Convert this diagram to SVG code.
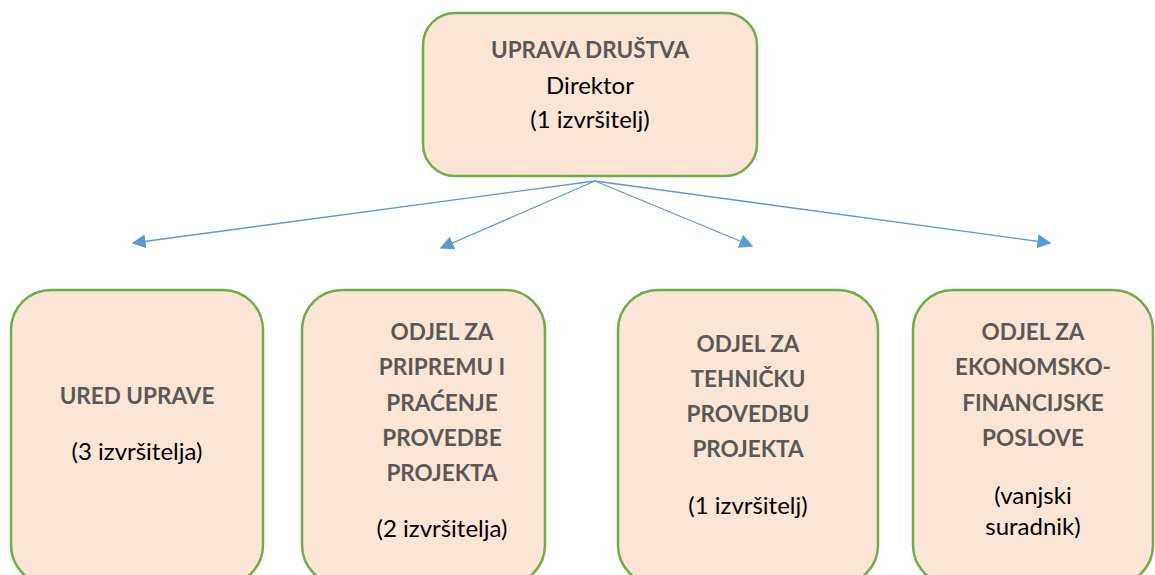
<svg xmlns="http://www.w3.org/2000/svg" width="1155" height="575" viewBox="0 0 1155 575">
<defs>
<style>
.box{fill:#FBE5D6;stroke:#70AD47;stroke-width:2.5}
.t{font-family:Lato,"Liberation Sans",sans-serif;text-anchor:middle}
.b{font-weight:bold;fill:#595959;font-size:22.5px}
.r{fill:#000;font-size:24px}
.c{stroke:#5B9BD5;stroke-width:1.3;fill:none}
</style>
<marker id="ah" viewBox="0 0 10 10" refX="9" refY="5" markerWidth="14" markerHeight="14" markerUnits="userSpaceOnUse" orient="auto">
<path d="M0,0 L10,5 L0,10 Z" fill="#5B9BD5"/>
</marker>
</defs>
<rect width="1155" height="575" fill="#fff"/>
<g id="connectors">
<line class="c" x1="595" y1="181" x2="133" y2="243" marker-end="url(#ah)"/>
<line class="c" x1="595" y1="181" x2="441" y2="248" marker-end="url(#ah)"/>
<line class="c" x1="595" y1="181" x2="752" y2="246" marker-end="url(#ah)"/>
<line class="c" x1="595" y1="181" x2="1050" y2="243" marker-end="url(#ah)"/>
</g>
<g id="uprava">
<rect class="box" x="423" y="13" width="334" height="163" rx="32"/>
<text class="t b" x="590" y="58">UPRAVA DRUŠTVA</text>
<text class="t r" x="590" y="94">Direktor</text>
<text class="t r" x="590" y="128">(1 izvršitelj)</text>
</g>
<g id="ured">
<rect class="box" x="11" y="290" width="252" height="295" rx="40"/>
<text class="t b" x="137" y="404">URED UPRAVE</text>
<text class="t r" x="137" y="460">(3 izvršitelja)</text>
</g>
<g id="priprema">
<rect class="box" x="302" y="290" width="243" height="295" rx="40"/>
<text class="t b" x="442" y="340">ODJEL ZA</text>
<text class="t b" x="442" y="375">PRIPREMU I</text>
<text class="t b" x="442" y="411">PRAĆENJE</text>
<text class="t b" x="442" y="446">PROVEDBE</text>
<text class="t b" x="442" y="481">PROJEKTA</text>
<text class="t r" x="442" y="537">(2 izvršitelja)</text>
</g>
<g id="tehnicka">
<rect class="box" x="618" y="290" width="260" height="295" rx="40"/>
<text class="t b" x="748" y="352">ODJEL ZA</text>
<text class="t b" x="748" y="387">TEHNIČKU</text>
<text class="t b" x="748" y="422">PROVEDBU</text>
<text class="t b" x="748" y="457">PROJEKTA</text>
<text class="t r" x="748" y="514">(1 izvršitelj)</text>
</g>
<g id="ekonomski">
<rect class="box" x="913" y="290" width="240" height="295" rx="40"/>
<text class="t b" x="1033" y="340">ODJEL ZA</text>
<text class="t b" x="1033" y="375">EKONOMSKO-</text>
<text class="t b" x="1033" y="411">FINANCIJSKE</text>
<text class="t b" x="1033" y="446">POSLOVE</text>
<text class="t r" x="1033" y="504">(vanjski</text>
<text class="t r" x="1033" y="535">suradnik)</text>
</g>
</svg>
